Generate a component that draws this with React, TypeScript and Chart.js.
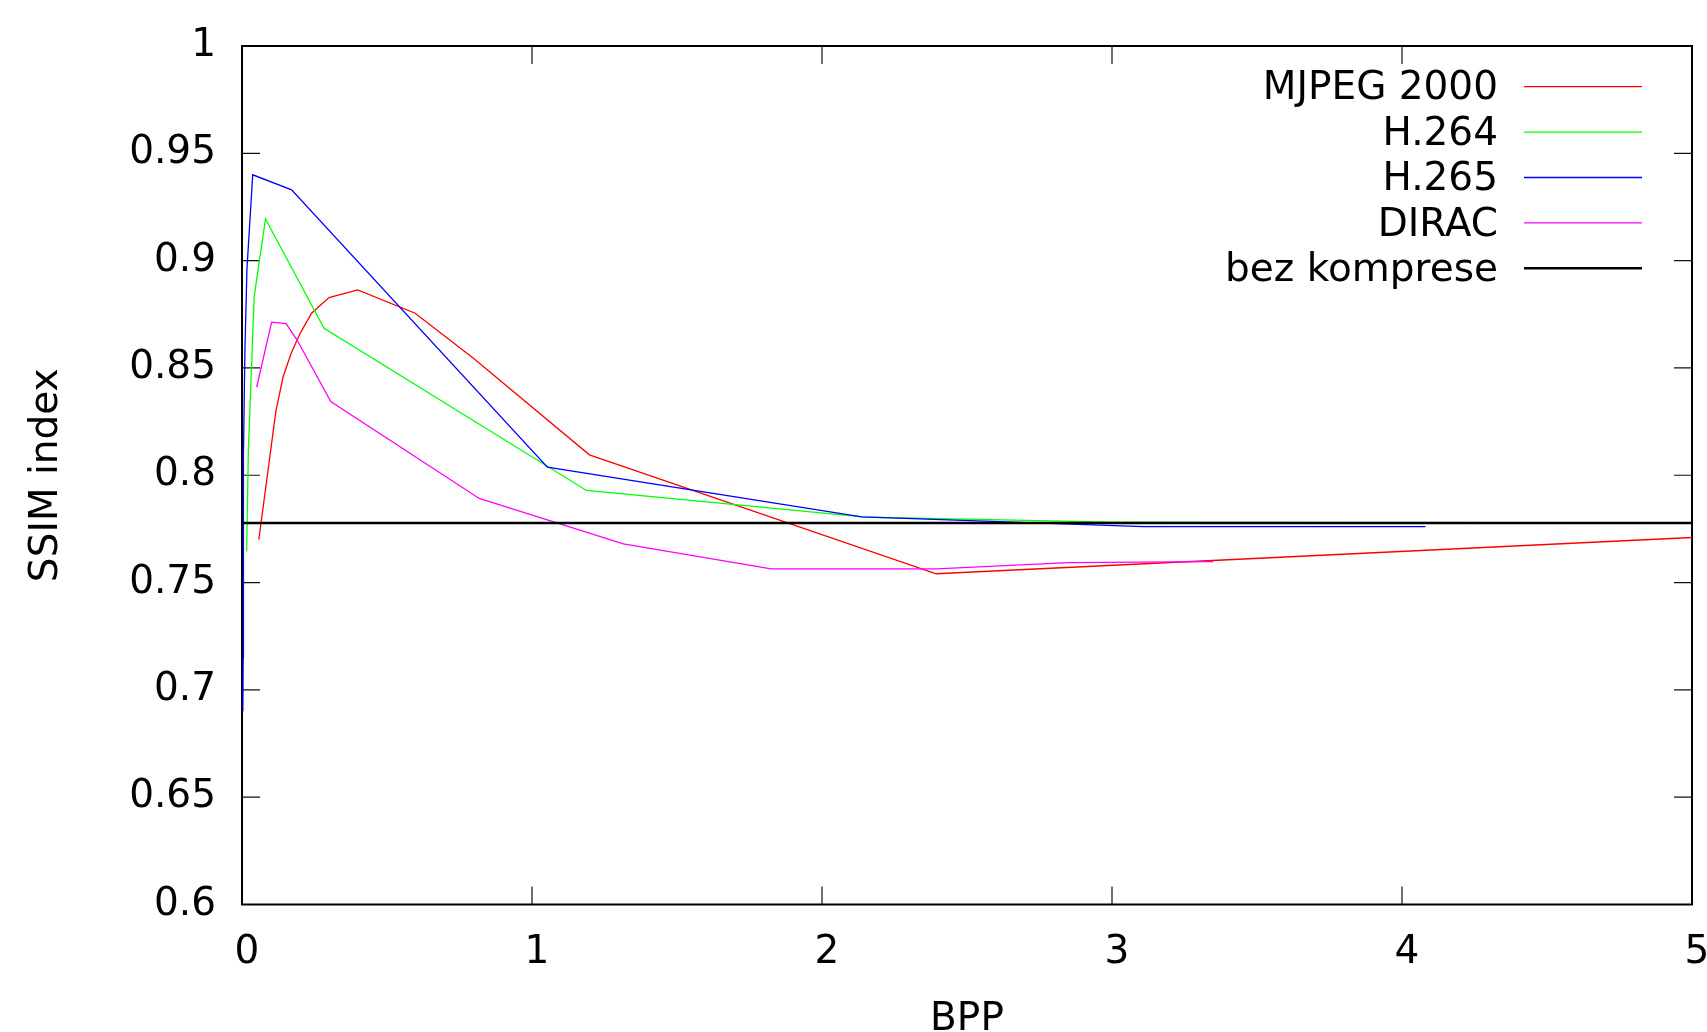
import { useEffect, useRef } from "react";
import { Chart, registerables } from "chart.js";

Chart.register(...registerables);

const WIDTH = 1707;
const HEIGHT = 1032;
const FONT_FAMILY = "'DejaVu Sans', 'Liberation Sans', sans-serif";
const FONT_SIZE = 39;

// Axis ticks
const xTickValues = [0, 1, 2, 3, 4, 5];
const yTickValues = [0.6, 0.65, 0.7, 0.75, 0.8, 0.85, 0.9, 0.95, 1];

// MJPEG 2000
const mjpegBpp = [0.058, 0.117, 0.142, 0.17, 0.2, 0.24, 0.3, 0.399, 0.597, 0.798, 1.198, 2.394, 5.0];
const mjpegSsim = [0.770, 0.830, 0.846, 0.857, 0.866, 0.8755, 0.8828, 0.8864, 0.8755, 0.8545, 0.8095, 0.7541, 0.771];

// H.264
const h264Bpp = [0.016, 0.022, 0.042, 0.081, 0.283, 1.188, 2.15, 3.0, 5.0];
const h264Ssim = [0.7645, 0.812, 0.8832, 0.9194, 0.8685, 0.7929, 0.7805, 0.7782, 0.7778];

// H.265
const h265Bpp = [0.003, 0.004, 0.005, 0.01, 0.017, 0.037, 0.171, 1.053, 2.137, 3.108, 4.081];
const h265Ssim = [0.690, 0.715, 0.81, 0.858, 0.896, 0.940, 0.933, 0.8038, 0.7806, 0.7761, 0.7761];

// DIRAC
const diracBpp = [0.0506, 0.102, 0.152, 0.19, 0.306, 0.818, 1.315, 1.825, 2.394, 2.85, 3.349];
const diracSsim = [0.841, 0.8713, 0.8706, 0.863, 0.8343, 0.7892, 0.768, 0.7564, 0.7564, 0.7593, 0.7598];

// Uncompressed reference level
const referenceBpp = [0, 5];
const referenceSsim = [0.7777, 0.7777];

const seriesLabels = ["MJPEG 2000", "H.264", "H.265", "DIRAC", "bez komprese"];
const seriesColors = ["#ff0000", "#00ff00", "#0000ff", "#ff00ff", "#000000"];
const seriesWidths = [1.3, 1.3, 1.3, 1.3, 2.5];

const toPoints = (xs: number[], ys: number[]) => xs.map((x, i) => ({ x, y: ys[i] }));

const formatTick = (v: number) => {
  const s = Number(v).toFixed(2);
  return s.replace(/0+$/, "").replace(/\.$/, "");
};

// Border with inward ticks on all four sides
const framePlugin = {
  id: "frameWithInwardTicks",
  beforeDatasetsDraw(chart: any) {
    const { ctx, chartArea: a, scales } = chart;
    const xs = scales.x;
    const ys = scales.y;
    const len = 18;
    ctx.save();
    ctx.strokeStyle = "#111";
    ctx.lineWidth = 1.2;
    ctx.beginPath();
    for (const v of yTickValues) {
      const py = ys.getPixelForValue(v);
      ctx.moveTo(a.left, py);
      ctx.lineTo(a.left + len, py);
      ctx.moveTo(a.right, py);
      ctx.lineTo(a.right - len, py);
    }
    for (const v of xTickValues) {
      const px = xs.getPixelForValue(v);
      ctx.moveTo(px, a.bottom);
      ctx.lineTo(px, a.bottom - len);
      ctx.moveTo(px, a.top);
      ctx.lineTo(px, a.top + len);
    }
    ctx.stroke();
    ctx.lineWidth = 2;
    ctx.strokeStyle = "#000";
    ctx.strokeRect(a.left, a.top, a.right - a.left, a.bottom - a.top);
    ctx.restore();
  },
};

// Key in the upper right: right-aligned label followed by a line sample
const keyPlugin = {
  id: "lineKey",
  afterDatasetsDraw(chart: any) {
    const { ctx } = chart;
    const textRight = 1498;
    const lineStart = 1524;
    const lineEnd = 1642;
    const firstRow = 86.7;
    const rowGap = 45.4;
    ctx.save();
    ctx.font = `${FONT_SIZE}px ${FONT_FAMILY}`;
    ctx.textAlign = "right";
    ctx.textBaseline = "middle";
    chart.data.datasets.forEach((ds: any, i: number) => {
      const y = firstRow + i * rowGap;
      ctx.fillStyle = "#000";
      ctx.fillText(ds.label, textRight, y + 2.5);
      ctx.strokeStyle = ds.borderColor;
      ctx.lineWidth = ds.borderWidth;
      ctx.beginPath();
      ctx.moveTo(lineStart, y);
      ctx.lineTo(lineEnd, y);
      ctx.stroke();
    });
    ctx.restore();
  },
};

export default function App() {
  const canvasRef = useRef<HTMLCanvasElement | null>(null);

  useEffect(() => {
    if (!canvasRef.current) return;
    const seriesData = [
      toPoints(mjpegBpp, mjpegSsim),
      toPoints(h264Bpp, h264Ssim),
      toPoints(h265Bpp, h265Ssim),
      toPoints(diracBpp, diracSsim),
      toPoints(referenceBpp, referenceSsim),
    ];
    const font = { family: FONT_FAMILY, size: FONT_SIZE };
    const chart = new Chart(canvasRef.current, {
      type: "line",
      data: {
        datasets: seriesData.map((data, i) => ({
          label: seriesLabels[i],
          data,
          borderColor: seriesColors[i],
          backgroundColor: seriesColors[i],
          borderWidth: seriesWidths[i],
          pointRadius: 0,
          pointHoverRadius: 0,
          tension: 0,
          fill: false,
          order: seriesLabels.length - i,
        })),
      },
      options: {
        animation: false,
        responsive: false,
        maintainAspectRatio: false,
        events: [],
        layout: { padding: { left: 0, right: 15, top: 46, bottom: 0 } },
        plugins: {
          legend: { display: false },
          tooltip: { enabled: false },
        },
        scales: {
          x: {
            type: "linear",
            min: 0,
            max: 5,
            afterBuildTicks: (scale: any) => {
              scale.ticks = xTickValues.map((value) => ({ value }));
            },
            afterFit: (scale: any) => {
              scale.height = HEIGHT - 904.5;
              scale.paddingLeft = 0;
              scale.paddingRight = 0;
            },
            grid: { display: false, drawTicks: false },
            border: { display: false },
            ticks: {
              font,
              color: "#000",
              padding: 25,
              labelOffset: 5,
              maxRotation: 0,
              autoSkip: false,
              callback: (v: any) => String(v),
            },
            title: {
              display: true,
              text: "BPP",
              color: "#000",
              font: { family: FONT_FAMILY, size: FONT_SIZE, lineHeight: 1 },
              padding: { top: 0, bottom: -7.5 },
            },
          },
          y: {
            type: "linear",
            min: 0.6,
            max: 1,
            afterBuildTicks: (scale: any) => {
              scale.ticks = yTickValues.map((value) => ({ value }));
            },
            afterFit: (scale: any) => {
              scale.width = 242;
              scale.paddingTop = 0;
              scale.paddingBottom = 0;
            },
            grid: { display: false, drawTicks: false },
            border: { display: false },
            ticks: {
              font,
              color: "#000",
              padding: 26,
              autoSkip: false,
              callback: (v: any) => formatTick(v),
            },
            title: {
              display: true,
              text: "SSIM index",
              color: "#000",
              font: { family: FONT_FAMILY, size: FONT_SIZE, lineHeight: 1 },
              padding: { top: 27, bottom: 0 },
            },
          },
        },
      },
      plugins: [framePlugin, keyPlugin],
    });
    return () => chart.destroy();
  }, []);

  return (
    <div style={{ position: "fixed", left: 0, top: 0, width: WIDTH, height: HEIGHT, background: "#fff" }}>
      <canvas ref={canvasRef} width={WIDTH} height={HEIGHT} style={{ width: WIDTH, height: HEIGHT, display: "block" }} />
    </div>
  );
}
